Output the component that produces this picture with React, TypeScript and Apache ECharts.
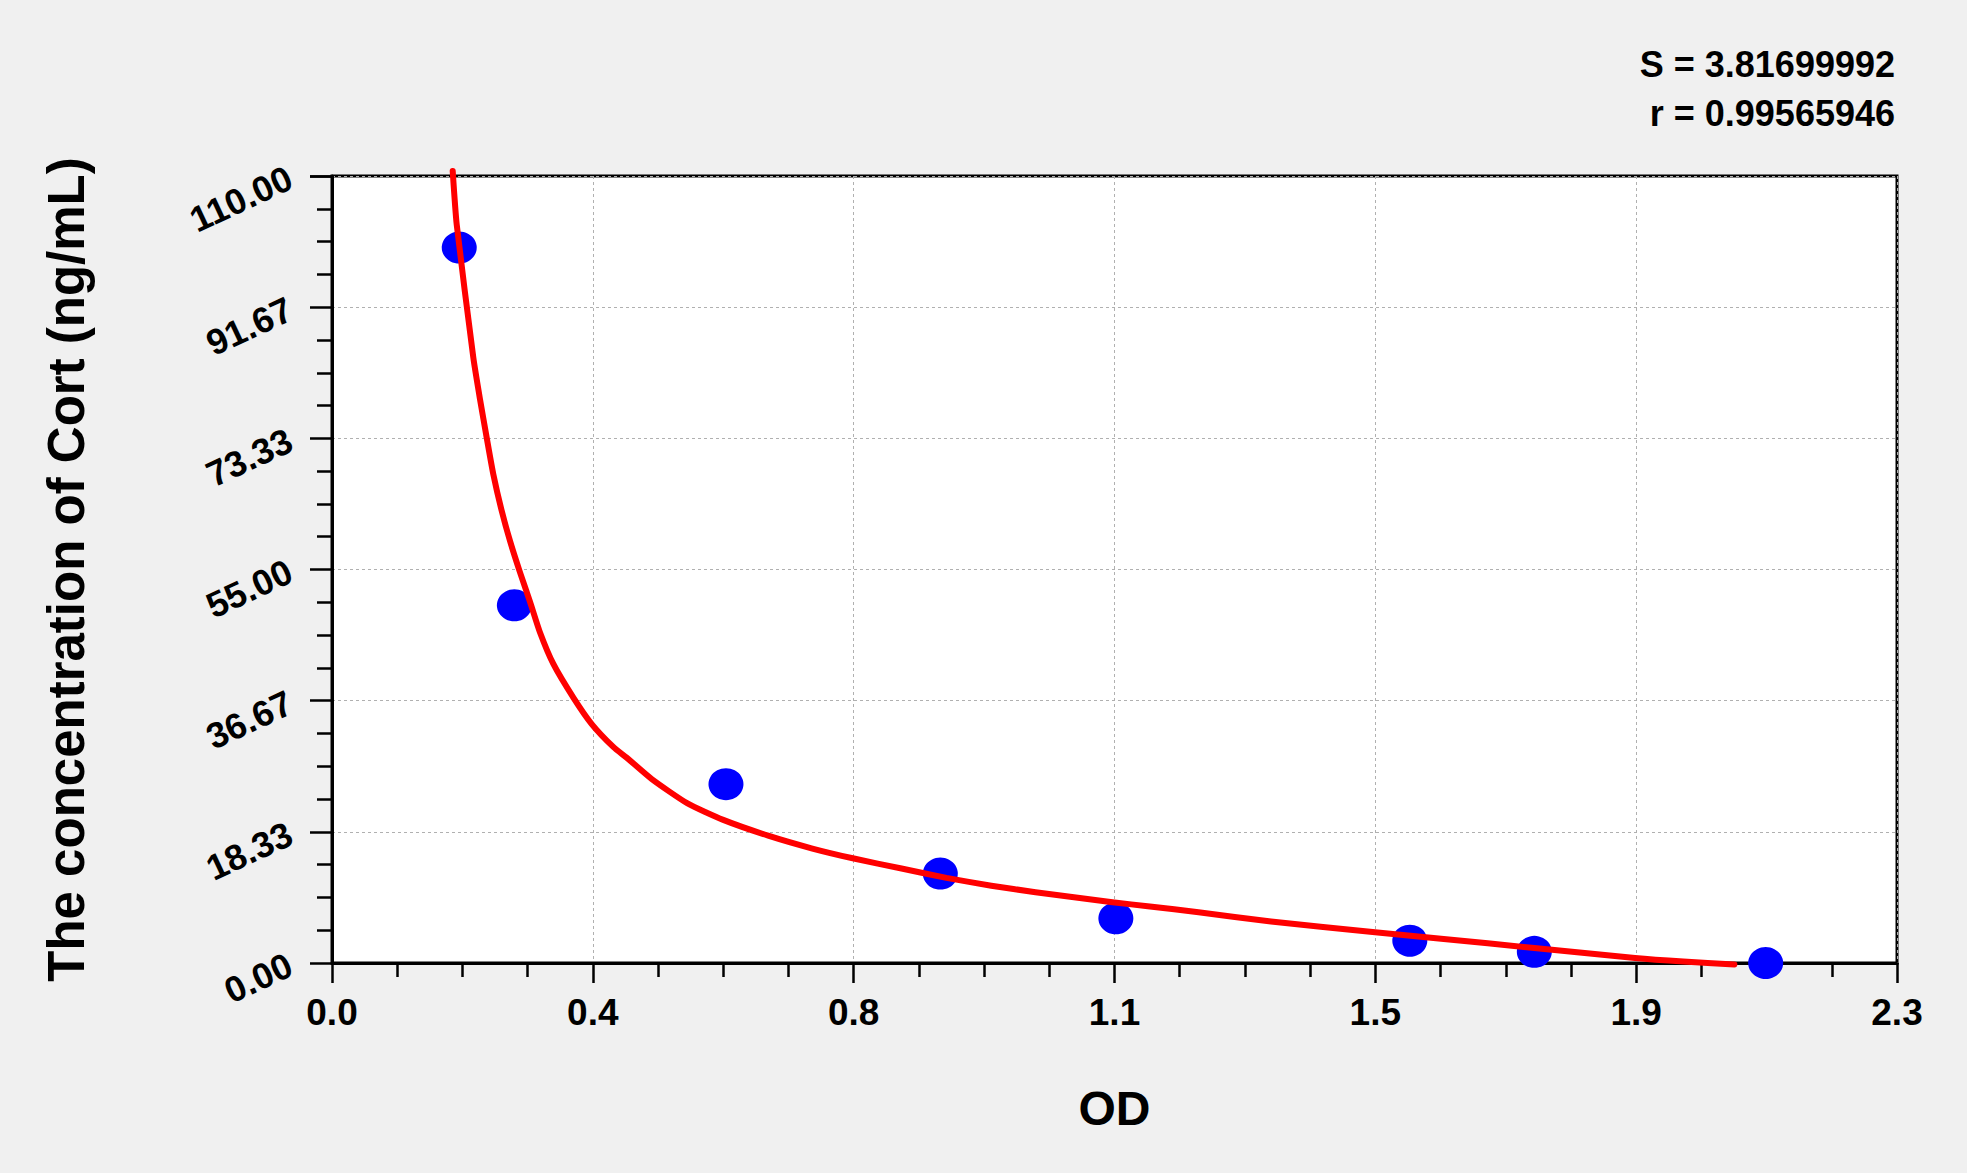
import { useEffect, useRef } from "react";
import * as echarts from "echarts";

// standard points (OD vs concentration)
const pointOD = [0.187, 0.268, 0.579, 0.894, 1.152, 1.584, 1.767, 2.107];
const pointConc = [100, 50, 25, 12.5, 6.25, 3.12, 1.56, 0];

// fitted curve
const curveOD = [
  0.1774, 0.1833, 0.2077, 0.2175, 0.2274, 0.2371, 0.2494, 0.2616, 0.2763, 0.291,
  0.3057, 0.3253, 0.3547, 0.3817, 0.4134, 0.433, 0.47, 0.5225, 0.575, 0.641,
  0.706, 0.767, 0.837, 0.903, 0.969, 1.034, 1.147, 1.202, 1.2735, 1.38, 1.533,
  1.63, 1.767, 1.915, 1.986, 2.061,
];
const curveConc = [
  110.7, 103.2, 84.6, 78.8, 73.4, 68.3, 63.2, 59.0, 54.6, 50.5, 46.2, 41.8, 37.1,
  33.4, 30.2, 28.7, 25.7, 22.3, 20.0, 17.8, 16.0, 14.6, 13.2, 11.9, 10.8, 9.9,
  8.5, 7.9, 7.1, 5.8, 4.3, 3.4, 2.1, 0.7, 0.2, -0.2,
];

const xTickLabels = ["0.0", "0.4", "0.8", "1.1", "1.5", "1.9", "2.3"];
const yTickLabels = ["0.00", "18.33", "36.67", "55.00", "73.33", "91.67", "110.00"];
const statLines = ["S = 3.81699992", "r = 0.99565946"];

const FONT = 'Arial, "Liberation Sans", sans-serif';
const X_MAX = 2.3;
const Y_MAX = 110;

export default function App() {
  const chartRef = useRef<HTMLDivElement>(null);

  useEffect(() => {
    if (!chartRef.current) return;
    const chart = echarts.init(chartRef.current, null, { renderer: "svg" });
    const xStep = X_MAX / 6;
    const yStep = Y_MAX / 6;

    chart.setOption({
      animation: false,
      backgroundColor: "#f0f0f0",
      textStyle: { fontFamily: FONT },
      grid: {
        left: 332,
        right: 70,
        top: 176,
        bottom: 210,
        show: true,
        backgroundColor: "#ffffff",
        borderColor: "#000",
        borderWidth: 3,
      },
      // S / r statistics, top right
      graphic: statLines.map((t, i) => ({
        type: "text",
        x: 1895,
        y: 82 + i * 49,
        style: {
          text: t,
          align: "right",
          verticalAlign: "bottom",
          fill: "#000",
          font: `bold 36px ${FONT}`,
        },
      })),
      xAxis: {
        type: "value",
        min: 0,
        max: X_MAX,
        interval: xStep,
        name: "OD",
        nameLocation: "middle",
        nameGap: 121,
        nameTextStyle: { fontSize: 48, fontWeight: "bold", color: "#000" },
        axisLine: { lineStyle: { color: "#000", width: 3 } },
        axisTick: { length: 20, lineStyle: { color: "#000", width: 2.5 } },
        minorTick: { show: true, splitNumber: 4, length: 14, lineStyle: { color: "#000", width: 2.5 } },
        splitLine: { show: true, lineStyle: { color: "#b0b0b0", width: 1, type: [3, 3] } },
        axisLabel: {
          fontSize: 37,
          fontWeight: "bold",
          color: "#000",
          margin: 31,
          formatter: (v: number) => xTickLabels[Math.round(v / xStep)] ?? "",
        },
      },
      yAxis: {
        type: "value",
        min: 0,
        max: Y_MAX,
        interval: yStep,
        name: "The concentration of Cort (ng/mL)",
        nameLocation: "middle",
        nameGap: 240,
        nameTextStyle: { fontSize: 51, fontWeight: "bold", color: "#000" },
        axisLine: { show: true, lineStyle: { color: "#000", width: 3 } },
        axisTick: { show: true, length: 22, lineStyle: { color: "#000", width: 2.5 } },
        minorTick: { show: true, splitNumber: 4, length: 15, lineStyle: { color: "#000", width: 2.5 } },
        splitLine: { show: true, lineStyle: { color: "#b0b0b0", width: 1, type: [3, 3] } },
        axisLabel: {
          fontSize: 36,
          fontWeight: "bold",
          color: "#000",
          rotate: 25,
          margin: 42,
          formatter: (v: number) => yTickLabels[Math.round(v / yStep)] ?? "",
        },
      },
      series: [
        {
          name: "Standards",
          type: "scatter",
          data: pointOD.map((x, i) => [x, pointConc[i]]),
          symbol: "circle",
          symbolSize: [35, 32],
          itemStyle: { color: "#0000ff", opacity: 1 },
          z: 2,
        },
        {
          name: "Fit",
          type: "line",
          data: curveOD.map((x, i) => [x, curveConc[i]]),
          showSymbol: false,
          smooth: 0.2,
          clip: false,
          lineStyle: { color: "#ff0000", width: 6, join: "round", cap: "round" },
          z: 3,
        },
      ],
    });

    return () => chart.dispose();
  }, []);

  return (
    <div
      ref={chartRef}
      style={{ position: "absolute", left: 0, top: 0, width: 1967, height: 1173 }}
    />
  );
}
